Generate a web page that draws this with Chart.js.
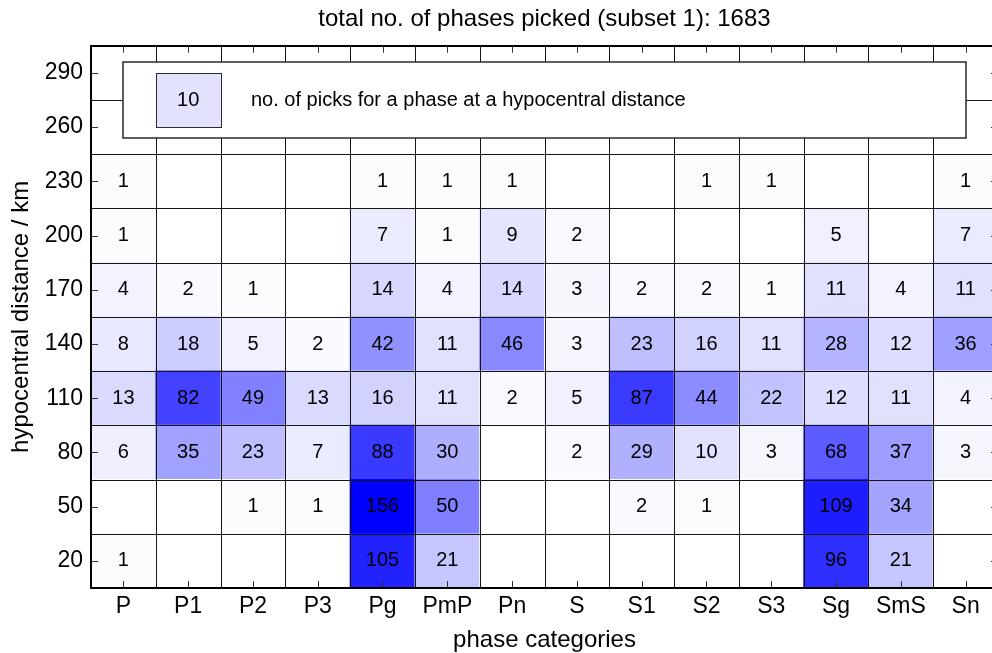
<!DOCTYPE html>
<html>
<head>
<meta charset="utf-8">
<script src="https://cdn.jsdelivr.net/npm/chart.js@4.4.1/dist/chart.umd.min.js"></script>
<style>
  html, body { margin: 0; padding: 0; background: #fff; overflow: hidden; }
  #wrap { width: 992px; height: 653px; overflow: hidden; position: relative; }
  #c { display: block; }
</style>
</head>
<body>
<div id="wrap"><canvas id="c" width="1000" height="653"></canvas></div>
<script>
// Phase categories along x, distance bins (km, bin centres) along y
const phases = ['P', 'P1', 'P2', 'P3', 'Pg', 'PmP', 'Pn', 'S', 'S1', 'S2', 'S3', 'Sg', 'SmS', 'Sn'];
const distances = [20, 50, 80, 110, 140, 170, 200, 230, 260, 290];
const binHalfWidth = 15;

// Number of picks per phase, one array per distance bin
const picks20  = [1, 0, 0, 0, 105, 21, 0, 0, 0, 0, 0, 96, 21, 0];
const picks50  = [0, 0, 1, 1, 156, 50, 0, 0, 2, 1, 0, 109, 34, 0];
const picks80  = [6, 35, 23, 7, 88, 30, 0, 2, 29, 10, 3, 68, 37, 3];
const picks110 = [13, 82, 49, 13, 16, 11, 2, 5, 87, 44, 22, 12, 11, 4];
const picks140 = [8, 18, 5, 2, 42, 11, 46, 3, 23, 16, 11, 28, 12, 36];
const picks170 = [4, 2, 1, 0, 14, 4, 14, 3, 2, 2, 1, 11, 4, 11];
const picks200 = [1, 0, 0, 0, 7, 1, 9, 2, 0, 0, 0, 5, 0, 7];
const picks230 = [1, 0, 0, 0, 1, 1, 1, 0, 0, 1, 1, 0, 0, 1];
const picks260 = [0, 0, 0, 0, 0, 0, 0, 0, 0, 0, 0, 0, 0, 0];
const picks290 = [0, 0, 0, 0, 0, 0, 0, 0, 0, 0, 0, 0, 0, 0];

const pickRows = [picks20, picks50, picks80, picks110, picks140, picks170, picks200, picks230, picks260, picks290];
const legendValue = 10;

const FONT = '"Liberation Sans", Arial, Helvetica, sans-serif';
const allCounts = pickRows.flat();
const maxCount = Math.max(...allCounts);
const totalPicks = allCounts.reduce((a, b) => a + b, 0);

// white -> blue colour ramp
function cellColor(v) {
  const t = Math.pow(1 - Math.min(v, maxCount) / maxCount, 1.8);
  const c = Math.round(255 * t);
  return `rgb(${c},${c},255)`;
}

const datasets = pickRows.map((counts, r) => ({
  label: String(distances[r]),
  data: counts.map(() => [distances[r] - binHalfWidth, distances[r] + binHalfWidth]),
  counts: counts,
  backgroundColor: counts.map(cellColor),
  borderWidth: 0,
  inflateAmount: 0.5,
  barPercentage: 1,
  categoryPercentage: 1,
  grouped: false
}));

// cell outlines along the bin edges of both scales
const cellGrid = {
  id: 'cellGrid',
  afterDatasetsDraw(chart) {
    const { ctx, chartArea: a } = chart;
    const xs = chart.scales.x, ys = chart.scales.y;
    ctx.save();
    ctx.strokeStyle = '#151515';
    ctx.lineWidth = 1;
    ctx.beginPath();
    for (let i = 0; i <= phases.length; i++) {
      const px = Math.round(xs.getPixelForValue(i - 0.5)) + 0.5;
      ctx.moveTo(px, a.top); ctx.lineTo(px, a.bottom);
    }
    for (let k = 0; k <= distances.length; k++) {
      const edge = distances[0] - binHalfWidth + k * 2 * binHalfWidth;
      const py = Math.round(ys.getPixelForValue(edge)) + 0.5;
      ctx.moveTo(a.left, py); ctx.lineTo(a.right, py);
    }
    ctx.stroke();
    ctx.restore();
  }
};

// key box in the upper part of the plot
const keyBox = {
  id: 'keyBox',
  afterDatasetsDraw(chart) {
    const { ctx } = chart;
    const xs = chart.scales.x, ys = chart.scales.y;
    const l = Math.round(xs.getPixelForValue(0)), r = Math.round(xs.getPixelForValue(13));
    const t = Math.round(ys.getPixelForValue(296)), b = Math.round(ys.getPixelForValue(254));
    ctx.save();
    ctx.fillStyle = '#fff';
    ctx.fillRect(l, t, r - l, b - t);
    ctx.strokeStyle = '#2a2a2a';
    ctx.lineWidth = 1.5;
    ctx.strokeRect(l, t, r - l, b - t);

    const sl = Math.round(xs.getPixelForValue(0.5)) + 0.5, sr = Math.round(xs.getPixelForValue(1.5)) + 0.5;
    const st = Math.round(ys.getPixelForValue(290)) + 0.5, sb = Math.round(ys.getPixelForValue(260)) + 0.5;
    ctx.fillStyle = cellColor(legendValue);
    ctx.fillRect(sl, st, sr - sl, sb - st);
    ctx.strokeStyle = '#2a2a2a';
    ctx.lineWidth = 1;
    ctx.strokeRect(sl, st, sr - sl, sb - st);

    ctx.fillStyle = '#000';
    ctx.font = `20px ${FONT}`;
    ctx.textBaseline = 'middle';
    ctx.textAlign = 'center';
    ctx.fillText(String(legendValue), xs.getPixelForValue(1), ys.getPixelForValue(275));
    ctx.textAlign = 'left';
    ctx.fillText('no. of picks for a phase at a hypocentral distance', xs.getPixelForValue(2) - 2, ys.getPixelForValue(275));
    ctx.restore();
  }
};

// count written in the middle of each non-empty cell
const cellLabels = {
  id: 'cellLabels',
  afterDatasetsDraw(chart) {
    const ctx = chart.ctx;
    ctx.save();
    ctx.font = `20px ${FONT}`;
    ctx.fillStyle = '#000';
    ctx.textAlign = 'center';
    ctx.textBaseline = 'middle';
    chart.data.datasets.forEach((ds, i) => {
      chart.getDatasetMeta(i).data.forEach((bar, j) => {
        const v = ds.counts[j];
        if (v > 0) {
          const p = bar.getCenterPoint();
          ctx.fillText(String(v), p.x, p.y);
        }
      });
    });
    ctx.restore();
  }
};

// box round the plot with inward tick marks on all four sides
const frame = {
  id: 'frame',
  afterDraw(chart) {
    const { ctx, chartArea: a } = chart;
    const xs = chart.scales.x, ys = chart.scales.y;
    const len = 7;
    ctx.save();
    ctx.strokeStyle = '#333';
    ctx.lineWidth = 1;
    ctx.beginPath();
    xs.ticks.forEach((_, i) => {
      const px = Math.round(xs.getPixelForTick(i)) + 0.5;
      ctx.moveTo(px, a.bottom); ctx.lineTo(px, a.bottom - len);
      ctx.moveTo(px, a.top); ctx.lineTo(px, a.top + len);
    });
    ys.ticks.forEach((_, i) => {
      const py = Math.round(ys.getPixelForTick(i)) + 0.5;
      ctx.moveTo(a.left, py); ctx.lineTo(a.left + len, py);
      ctx.moveTo(a.right, py); ctx.lineTo(a.right - len, py);
    });
    ctx.stroke();
    ctx.strokeStyle = '#000';
    ctx.lineWidth = 2;
    ctx.strokeRect(Math.round(a.left), Math.round(a.top), Math.round(a.right - a.left), Math.round(a.bottom - a.top));
    ctx.restore();
  }
};

new Chart(document.getElementById('c'), {
  type: 'bar',
  data: { labels: phases, datasets: datasets },
  plugins: [cellGrid, keyBox, cellLabels, frame],
  options: {
    responsive: false,
    animation: false,
    devicePixelRatio: 1,
    layout: { padding: { left: 0, right: 2, top: 0, bottom: 0 } },
    plugins: {
      legend: { display: false },
      tooltip: { enabled: false },
      title: {
        display: true,
        fullSize: false,
        text: `total no. of phases picked (subset 1): ${totalPicks}`,
        color: '#000',
        font: { family: FONT, size: 24, weight: 'normal', lineHeight: 1.2 },
        padding: { top: 5, bottom: 12 }
      }
    },
    scales: {
      x: {
        type: 'category',
        offset: true,
        grid: { display: false, drawTicks: false },
        border: { display: false },
        ticks: { color: '#000', font: { family: FONT, size: 23 }, padding: 5, maxRotation: 0, autoSkip: false },
        title: {
          display: true, text: 'phase categories', color: '#000',
          font: { family: FONT, size: 24, lineHeight: 1 }, padding: { top: 0, bottom: 1 }
        },
        afterFit(s) { s.height = 65; }
      },
      y: {
        type: 'linear',
        min: distances[0] - binHalfWidth,
        max: distances[distances.length - 1] + binHalfWidth,
        grid: { display: false, drawTicks: false },
        border: { display: false },
        afterBuildTicks(s) { s.ticks = distances.map(v => ({ value: v })); },
        ticks: { color: '#000', font: { family: FONT, size: 23 }, padding: 8 },
        title: {
          display: true, text: 'hypocentral distance / km', color: '#000',
          font: { family: FONT, size: 24, lineHeight: 1.2 }, padding: { top: 7, bottom: 0 }
        },
        afterFit(s) { s.width = 91; }
      }
    }
  }
});
</script>
</body>
</html>
